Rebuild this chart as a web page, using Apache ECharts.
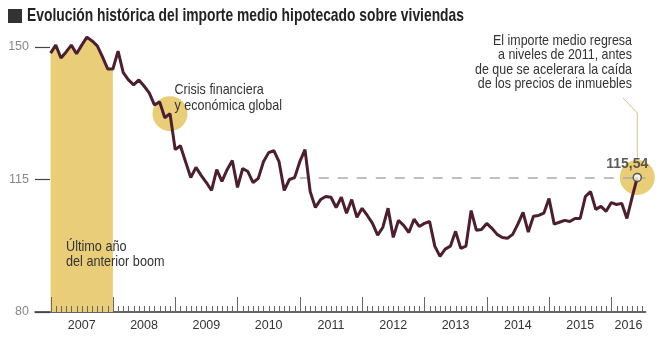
<!DOCTYPE html>
<html><head><meta charset="utf-8">
<script src="https://cdn.jsdelivr.net/npm/echarts@6/dist/echarts.min.js"></script>
<style>html,body{margin:0;padding:0;background:#fff}#c{width:664px;height:349px}</style>
</head><body><div id="c"></div>
<script>
const FONT = "'Liberation Sans','Arial',sans-serif";
const titleText = 'Evolución histórica del importe medio hipotecado sobre viviendas';
const yearLabels = ['2007','2008','2009','2010','2011','2012','2013','2014','2015','2016'];
const yTicks = [80, 115, 150];
// Monthly average mortgage amount (thousand €), Jan 2007 - Jun 2016
const values = [
  148.4,150.5,147.1,148.7,150.5,148.2,150.5,152.6,151.6,150.3,147.4,144.2,
  144.2,148.9,143.2,141.3,140.0,141.3,139.7,137.9,134.7,135.5,131.3,132.4,
  122.9,123.9,119.7,115.5,118.2,116.1,114.2,112.1,117.6,114.5,117.6,120.0,
  112.9,117.9,117.1,114.2,115.3,119.7,122.1,122.6,119.7,112.1,115.0,115.5,
  119.7,122.9,111.8,107.6,109.7,110.5,110.3,107.6,110.3,106.1,109.7,105.0,
  107.4,105.5,103.4,100.3,102.4,107.4,99.7,104.2,102.9,101.0,104.5,102.6,
  103.4,103.9,97.4,94.7,96.6,97.4,101.3,96.8,97.4,106.8,101.6,101.8,
  103.4,102.1,100.5,99.7,99.5,100.5,103.2,106.3,101.1,105.3,105.5,106.1,
  110.0,103.2,103.7,104.2,103.9,104.7,104.7,110.5,111.8,107.1,107.9,106.6,
  108.9,108.4,108.7,104.7,110.3,115.54
];
const boomMonths = 12;      // band covers the year 2007
const crisisIndex = 23;     // highlighted point, crisis
const refStartIndex = 48;   // Jan 2011
const lastLabel = '115,54';
const crisisText = 'Crisis financiera\ny económica global';
const boomText = 'Último año\ndel anterior boom';
const noteText = 'El importe medio regresa\na niveles de 2011, antes\nde que se acelerara la caída\nde los precios de inmuebles';

const xMin = -3, xMax = 114.6;
const lastIdx = values.length - 1;
const lastVal = values[lastIdx];
const lineData = values.map((v, i) => [i, v]);
const bandData = lineData.slice(0, boomMonths + 1);
// month ticks: [monthIndex, isYearStart]
const monthTicks = [];
for (let i = 0; i <= Math.floor(xMax); i++) monthTicks.push([i, i % 12 === 0 ? 1 : 0]);
const labelPos = yearLabels.map((_, k) => k < yearLabels.length - 1 ? k * 12 + 6 : (k * 12 + xMax) / 2);

// condensed look: measure text and squeeze horizontally to the reference width
const mctx = document.createElement('canvas').getContext('2d');
function squeeze(text, font, width) {
  mctx.font = font;
  const w = Math.max.apply(null, text.split('\n').map(t => mctx.measureText(t).width));
  return width / w;
}

const YEL = '#E9CD78', LINE = '#4B1F2F', TXT = '#333';
const chart = echarts.init(document.getElementById('c'), null, {renderer: 'canvas'});
chart.setOption({
  animation: false,
  grid: {left: 35, right: 18.4, top: 47, bottom: 37},
  xAxis: {
    type: 'value', min: xMin, max: xMax, position: 'bottom', splitLine: {show: false},
    axisLine: {show: true, onZero: false, lineStyle: {color: '#333', width: 1.5}},
    axisTick: {show: false},
    axisLabel: {show: true, customValues: labelPos, margin: 7, color: TXT, fontSize: 12.5, fontFamily: FONT,
      formatter: v => { const k = labelPos.indexOf(v); return k >= 0 ? yearLabels[k] : ''; }}
  },
  yAxis: {
    type: 'value', min: yTicks[0], max: yTicks[yTicks.length - 1], interval: yTicks[1] - yTicks[0],
    axisLine: {show: false, onZero: false}, splitLine: {show: false},
    axisTick: {show: true, inside: true, length: 15, lineStyle: {color: '#444', width: 1.2}},
    axisLabel: {margin: 6, color: '#888', fontSize: 12.5, fontFamily: FONT}
  },
  series: [
    {type: 'line', data: bandData, showSymbol: false, clip: false, lineStyle: {width: 0}, areaStyle: {color: YEL, opacity: 1, origin: 'start'}, z: 1, silent: true},
    {type: 'scatter', data: [[crisisIndex, values[crisisIndex]], [lastIdx, lastVal]], symbolSize: 35, itemStyle: {color: YEL, opacity: 1}, z: 2, silent: true},
    {type: 'custom', data: monthTicks, z: 5, silent: true, clip: false,
      renderItem: (params, api) => {
        const pt = api.coord([api.value(0), yTicks[0]]);
        const x = Math.round(pt[0]) + 0.5;
        const len = api.value(1) ? 15 : 6;
        return {type: 'line', shape: {x1: x, y1: pt[1] - len, x2: x, y2: pt[1]}, style: {stroke: '#666', lineWidth: 1}};
      }},
    {type: 'line', data: lineData, showSymbol: false, clip: false, lineStyle: {color: LINE, width: 3}, z: 6, silent: true,
      markLine: {silent: true, symbol: 'none', label: {show: false}, lineStyle: {color: '#aaa', type: [10, 9], width: 1.5},
        data: [[{coord: [refStartIndex, lastVal]}, {coord: [xMax, lastVal]}]]}},
    {type: 'scatter', data: [[lastIdx, lastVal]], symbol: 'circle', symbolSize: 8, z: 7,
      itemStyle: {color: '#fff', borderColor: '#333', borderWidth: 1.5},
      label: {show: true, position: 'top', distance: 5, offset: [-10, 3], formatter: lastLabel, color: TXT, fontSize: 14, fontWeight: 'bold', fontFamily: FONT}}
  ]
});
const p = chart.convertToPixel({xAxisIndex: 0, yAxisIndex: 0}, [lastIdx, lastVal]);
const fTitle = 'bold 19px ' + FONT, fNote = '15px ' + FONT;
const sTitle = squeeze('Evolución histórica del importe medio hipotecado sobre', fTitle, 370);
chart.setOption({
  graphic: [
    {type: 'rect', x: 8, y: 9, shape: {width: 14, height: 14}, style: {fill: '#333'}},
    {type: 'text', x: 27, y: 6, scaleX: sTitle, style: {text: titleText, font: fTitle, fill: '#222'}},
    {type: 'text', x: 632, y: 34, scaleX: squeeze(noteText, fNote, 157), style: {text: noteText, font: fNote, fill: TXT, align: 'right', lineHeight: 14.2}},
    {type: 'text', x: 174.5, y: 82, scaleX: squeeze(crisisText, fNote, 107.5), style: {text: crisisText, font: fNote, fill: TXT, lineHeight: 16}, zlevel: 1},
    {type: 'text', x: 66, y: 240, scaleX: squeeze(boomText, fNote, 98.5), style: {text: boomText, font: fNote, fill: TXT, lineHeight: 14.5}, zlevel: 1},
    {type: 'polyline', shape: {points: [[p[0], p[1] - 5], [p[0], 113], [623, 98]]}, style: {stroke: '#D6C08A', lineWidth: 1, fill: null}}
  ]
});
</script></body></html>
